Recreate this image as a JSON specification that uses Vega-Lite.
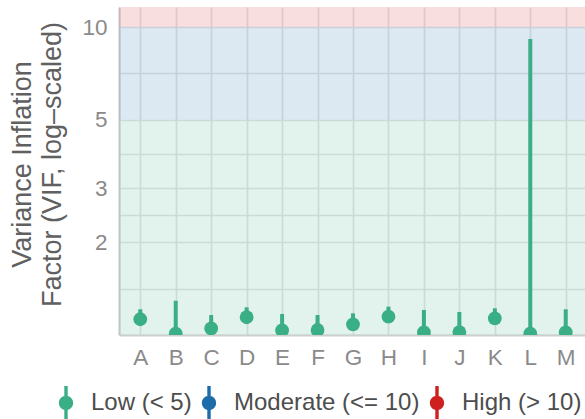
{
  "$schema": "https://vega.github.io/schema/vega-lite/v6.json",
  "width": 468,
  "height": 328,
  "autosize": {"type": "none"},
  "padding": {"left": 119, "top": 7, "right": 0, "bottom": 84},
  "background": "white",
  "config": {
    "font": "Liberation Sans",
    "view": {"stroke": null},
    "axis": {
      "gridColor": "#e4e4e4",
      "gridWidth": 1.7,
      "domainColor": "#cfcfcf",
      "domainWidth": 2.2,
      "ticks": false,
      "tickSize": 0,
      "labelColor": "#8a8a8a",
      "labelFontSize": 22.5,
      "titleColor": "#606060",
      "titleFontSize": 27,
      "titleFontWeight": "normal"
    }
  },
  "datasets": {
    "zones": [
      {"zone": "low", "lo": 1, "hi": 5},
      {"zone": "moderate", "lo": 5, "hi": 10},
      {"zone": "high", "lo": 10, "hi": 11.62}
    ],
    "vif": [
      {"Term": "A", "VIF": 1.125, "Upper": 1.212, "Correlation": "Low (< 5)"},
      {"Term": "B", "VIF": 1.01, "Upper": 1.292, "Correlation": "Low (< 5)"},
      {"Term": "C", "VIF": 1.05, "Upper": 1.161, "Correlation": "Low (< 5)"},
      {"Term": "D", "VIF": 1.142, "Upper": 1.23, "Correlation": "Low (< 5)"},
      {"Term": "E", "VIF": 1.035, "Upper": 1.17, "Correlation": "Low (< 5)"},
      {"Term": "F", "VIF": 1.038, "Upper": 1.161, "Correlation": "Low (< 5)"},
      {"Term": "G", "VIF": 1.083, "Upper": 1.176, "Correlation": "Low (< 5)"},
      {"Term": "H", "VIF": 1.147, "Upper": 1.236, "Correlation": "Low (< 5)"},
      {"Term": "I", "VIF": 1.02, "Upper": 1.206, "Correlation": "Low (< 5)"},
      {"Term": "J", "VIF": 1.022, "Upper": 1.188, "Correlation": "Low (< 5)"},
      {"Term": "K", "VIF": 1.133, "Upper": 1.221, "Correlation": "Low (< 5)"},
      {"Term": "L", "VIF": 1.01, "Upper": 9.14, "Correlation": "Low (< 5)"},
      {"Term": "M", "VIF": 1.02, "Upper": 1.212, "Correlation": "Low (< 5)"}
    ]
  },
  "layer": [
    {
      "data": {"name": "zones"},
      "mark": {"type": "rect", "fillOpacity": 0.15, "clip": true},
      "encoding": {
        "y": {
          "field": "lo", "type": "quantitative",
          "scale": {"type": "log", "domain": [1, 11.62], "nice": false, "zero": false},
          "axis": {
            "values": [1.4142, 2, 2.4495, 3, 3.873, 5, 7.0711, 10],
            "labelExpr": "(datum.value == 2 || datum.value == 3 || datum.value == 5 || datum.value == 10) ? datum.value : ''",
            "labelPadding": 12,
            "title": ["Variance Inflation", "Factor (VIF, log\u2013scaled)"],
            "titleAngle": -90,
            "titleAlign": "center",
            "titleBaseline": "alphabetic",
            "titleLineHeight": 30,
            "titleX": -89,
            "titleY": 157
          }
        },
        "y2": {"field": "hi"},
        "fill": {
          "field": "zone", "type": "nominal",
          "scale": {"domain": ["low", "moderate", "high"], "range": ["#3aaf85", "#1b6ca8", "#cd201f"]},
          "legend": null
        }
      }
    },
    {
      "data": {"name": "vif"},
      "mark": {"type": "rule", "strokeWidth": 4, "clip": true},
      "encoding": {
        "x": {
          "field": "Term", "type": "nominal",
          "scale": {"type": "point", "padding": 0.6},
          "axis": {"labelAngle": 0, "labelPadding": 11, "title": null, "grid": true}
        },
        "y": {"field": "VIF", "type": "quantitative"},
        "y2": {"field": "Upper"},
        "color": {
          "field": "Correlation", "type": "nominal",
          "scale": {"domain": ["Low (< 5)", "Moderate (<= 10)", "High (> 10)"], "range": ["#3aaf85", "#1b6ca8", "#cd201f"]}
        }
      }
    },
    {
      "data": {"name": "vif"},
      "mark": {"type": "point", "filled": true, "shape": "circle", "size": 190, "opacity": 1, "clip": true},
      "encoding": {
        "x": {"field": "Term", "type": "nominal"},
        "y": {"field": "VIF", "type": "quantitative"},
        "color": {
          "field": "Correlation", "type": "nominal",
          "legend": {
            "orient": "none",
            "direction": "horizontal",
            "legendX": -70,
            "legendY": 379,
            "title": null,
            "padding": 0,
            "symbolType": "M0.42,0A0.42,0.42,0,1,1,-0.42,0A0.42,0.42,0,1,1,0.42,0Z M-0.1,-1L0.1,-1L0.1,1L-0.1,1Z",
            "symbolSize": 1156,
            "symbolStrokeWidth": 0,
            "symbolOpacity": 1,
            "labelFontSize": 24,
            "labelColor": "#4d4d4d",
            "labelOffset": 8,
            "columnPadding": -1,
            "labelLimit": 300
          }
        }
      }
    }
  ]
}
